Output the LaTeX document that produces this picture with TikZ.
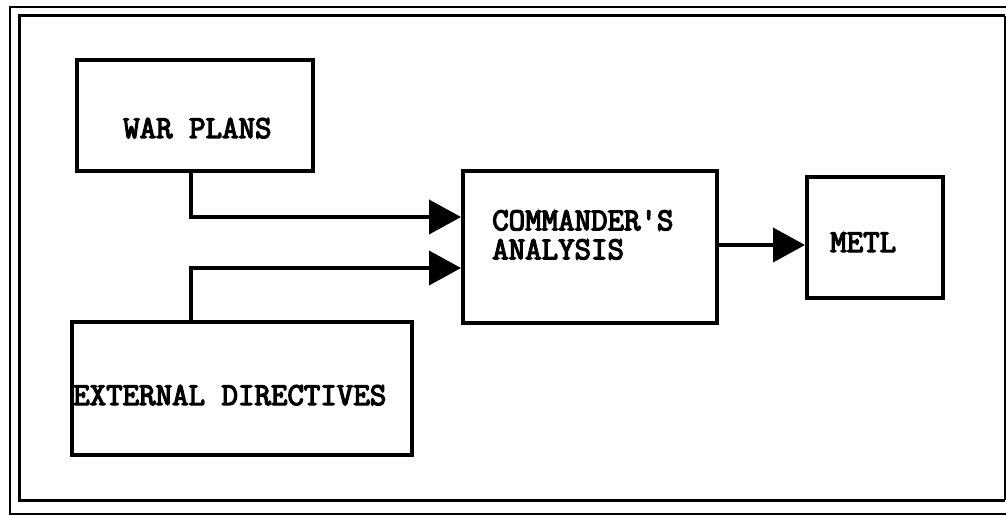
\documentclass[tikz,border=0pt]{standalone}
\usepackage{fontspec}
\newfontfamily\twfont{Latin Modern Mono}[FakeBold=4]
\usetikzlibrary{arrows.meta}
\tikzset{
  blk/.style={draw, line width=4pt, rectangle, inner sep=0pt},
  lbl/.style={anchor=west, inner sep=0pt, text height=20pt, text depth=0pt, font=\twfont\bfseries\fontsize{32}{29}\selectfont},
  conn/.style={line width=4pt, -{Triangle[length=32pt,width=34pt]}},
}
\begin{document}
\begin{tikzpicture}[x=1pt,y=-1pt]
\useasboundingbox (0,0) rectangle (1006,516);
% frame
\coordinate (f1) at (1010,7);
\coordinate (f2) at (10,7);
\coordinate (f3) at (10,514);
\coordinate (f4) at (1010,514);
\draw[line width=2pt] (f1) -- (f2) -- (f3) -- (f4);
\coordinate (g1) at (19,16);
\coordinate (g2) at (1005,500);
\draw[line width=3pt] (g2 |- g1) -- (g1) -- (g1 |- g2) -- (g2);
\draw[line width=1.5pt] (g2 |- g1) -- (g2);
% boxes
\node[blk, minimum width=236pt, minimum height=111pt] (war) at (195,115.5) {};
\node[blk, minimum width=254pt, minimum height=152pt] (cmd) at (590,247) {};
\node[blk, minimum width=136pt, minimum height=121pt] (metl) at (875,237.5) {};
\node[blk, minimum width=340pt, minimum height=133pt] (ext) at (242,388.5) {};
% texts
\node[lbl] (warT) at (123,128) {WAR PLANS};
\node[lbl, anchor=north west, align=left, text height=, text depth=] (cmdT) at (492,210) {COMMANDER'S\\ANALYSIS};
\node[lbl] (metlT) at (830,242) {METL};
\node[lbl] (extT) at (73,395) {EXTERNAL DIRECTIVES};
% connectors
\draw[conn] ([xshift=-4pt]war.south) |- ([yshift=30pt]cmd.west);
\draw[conn] ([xshift=-51pt]ext.north) |- ([yshift=-21pt]cmd.west);
\draw[conn] ([yshift=2pt]cmd.east) -- ([yshift=2pt]cmd.east -| metl.west);
\end{tikzpicture}
\end{document}
